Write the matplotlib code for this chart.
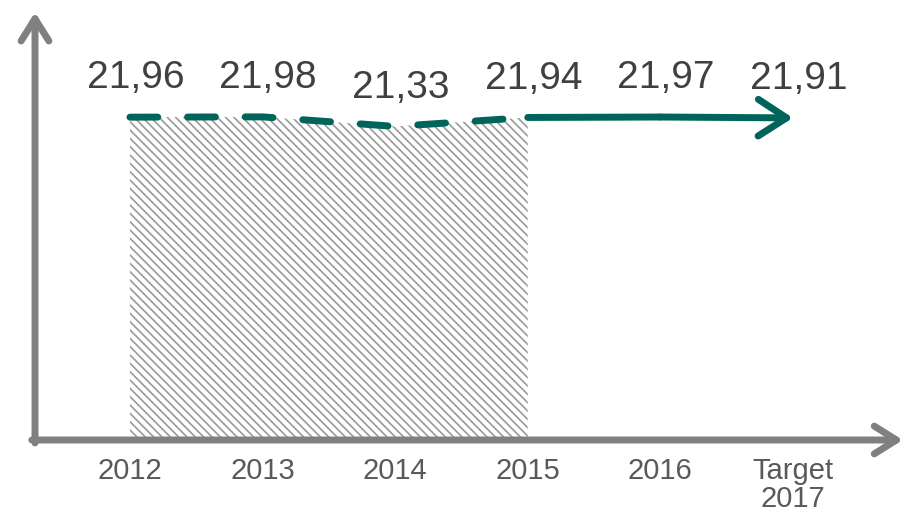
import matplotlib.pyplot as plt
import numpy as np

plt.rcParams['font.family'] = ['Liberation Sans', 'DejaVu Sans']
plt.rcParams['hatch.linewidth'] = 1.2

# data
years = ['2012', '2013', '2014', '2015', '2016', 'Target\n2017']
values = [21.96, 21.98, 21.33, 21.94, 21.97, 21.91]
n_actual = 4  # 2012-2015 are measured values (dashed + hatched)

teal = '#00645a'
axis_grey = '#808080'

fig = plt.figure(figsize=(9.05, 5.16), dpi=100)
ax = fig.add_axes([0, 0, 1, 1])
ax.set_xlim(-0.98, 5.845)
ax.set_ylim(-5.17, 29.93)
ax.axis('off')

x = np.arange(len(years))
v = np.array(values)

# hatched area under actual values
ax.fill_between(x[:n_actual], 0, v[:n_actual], facecolor='white',
                edgecolor='#9a9a9a', hatch='\\\\\\\\', linewidth=0, zorder=1)

# axes drawn as arrows
axis_arrow = dict(arrowstyle='->,head_length=0.8,head_width=0.5',
                  lw=5, color=axis_grey, mutation_scale=20,
                  shrinkA=0, shrinkB=0, capstyle='round', joinstyle='round')
ax.annotate('', xy=(-0.716, 29.1), xytext=(-0.716, -0.2),
            arrowprops=axis_arrow, zorder=2)
ax.annotate('', xy=(5.83, 0), xytext=(-0.74, 0),
            arrowprops=axis_arrow, zorder=2)

# dashed line for actuals
ax.plot(x[:n_actual], v[:n_actual], color=teal, lw=5, dashes=(4.0, 4.3),
        dash_capstyle='round', solid_capstyle='round', zorder=3)
# solid line towards target
ax.plot(x[n_actual - 1:-1], v[n_actual - 1:-1], color=teal, lw=5,
        solid_capstyle='round', zorder=3)
ax.annotate('', xy=(x[-1], v[-1]), xytext=(x[-2], v[-2]),
            arrowprops=dict(arrowstyle='->,head_length=0.85,head_width=0.55',
                            lw=5, color=teal, mutation_scale=24,
                            shrinkA=0, shrinkB=0, capstyle='round',
                            joinstyle='round'), zorder=3)

# value labels
for xi, val in zip(x, v):
    ax.annotate(f'{val:.2f}'.replace('.', ','), xy=(xi, val),
                xytext=(4, 28), textcoords='offset points',
                ha='center', va='center', fontsize=28, color='#404040')

# category labels
for xi, lab in zip(x, years):
    ax.annotate(lab, xy=(xi, 0), xytext=(0, -12), textcoords='offset points',
                ha='center', va='top', fontsize=21, color='#595959',
                linespacing=1.0)

fig.savefig('out.png', dpi=100)
